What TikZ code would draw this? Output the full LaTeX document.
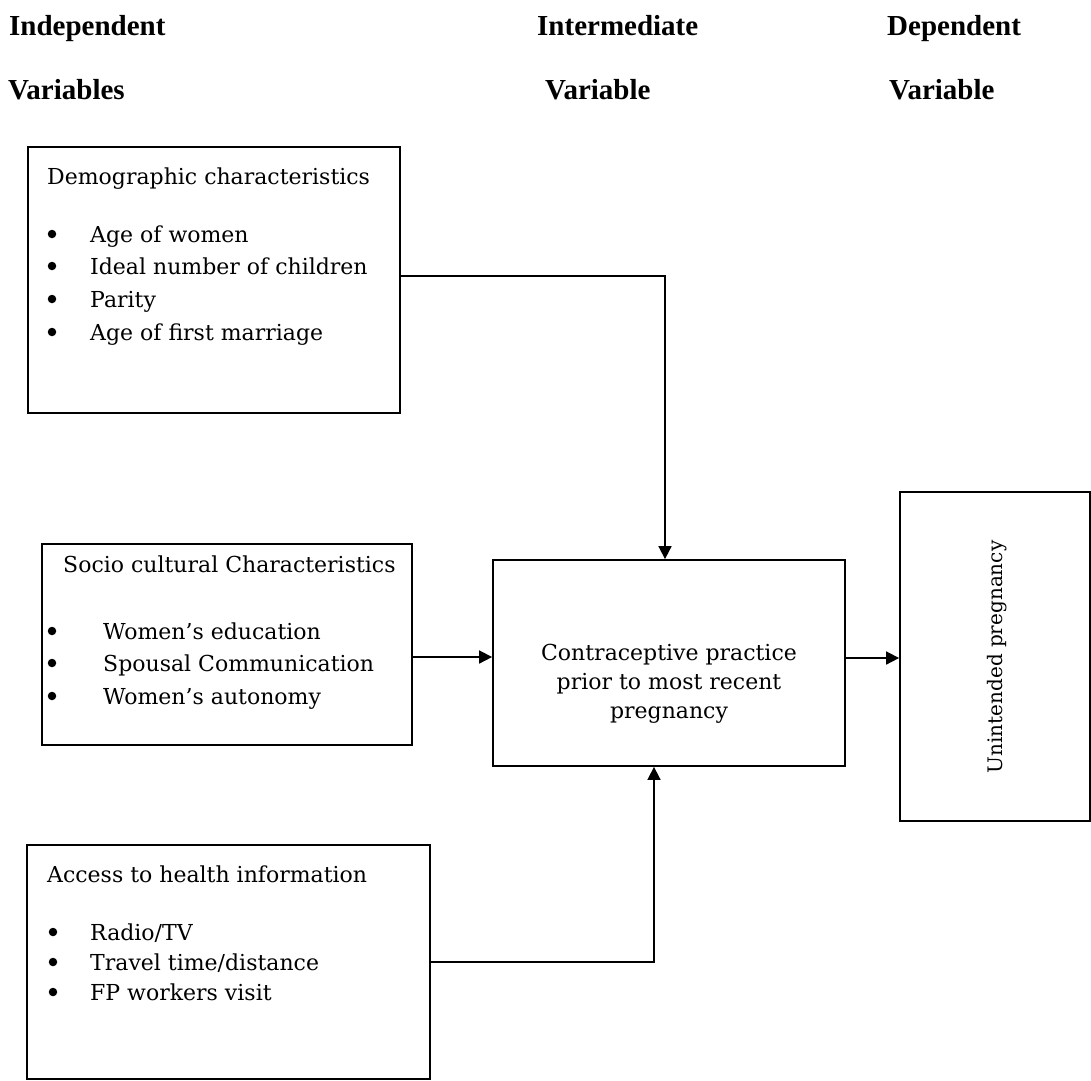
\documentclass[tikz,border=0pt]{standalone}
\usepackage{fontspec}
\setmainfont{DejaVu Serif}
\newfontfamily\hdrfont{Liberation Serif}
\usetikzlibrary{arrows.meta}
\begin{document}
\begin{tikzpicture}[x=1pt,y=-1pt,
  box/.style={draw=black,line width=1.8pt,rectangle,inner sep=0pt},
  hdr/.style={anchor=base west,inner sep=0pt,font=\hdrfont\bfseries\fontsize{29}{35}\selectfont},
  txt/.style={anchor=base west,inner sep=0pt,font=\fontsize{22}{33}\selectfont},
  bul/.style={circle,fill=black,draw=none,inner sep=0pt,minimum size=8.5pt},
  ctr/.style={anchor=base,inner sep=0pt,font=\fontsize{22}{29}\selectfont},
  conn/.style={line width=1.7pt,line cap=rect},
  arr/.style={conn,-{Triangle[length=13pt,width=13pt]}}]
\useasboundingbox (0,0) rectangle (1091,1080);
% headers
\node[hdr] (h1a) at (9,35) {Independent};
\node[hdr] (h1b) at (8,99) {Variables};
\node[hdr] (h2a) at (537,35) {Intermediate};
\node[hdr] (h2b) at (545,99) {Variable};
\node[hdr] (h3a) at (887,35) {Dependent};
\node[hdr] (h3b) at (889,99) {Variable};
% boxes
\node[box,minimum width=372pt,minimum height=266pt] (b1) at (214,280) {};
\node[box,minimum width=370pt,minimum height=201pt] (b2) at (227,644.5) {};
\node[box,minimum width=352pt,minimum height=206pt] (c) at (669,663) {};
\node[box,minimum width=190pt,minimum height=329pt] (r) at (995,656.5) {};
\node[box,minimum width=403pt,minimum height=234pt] (b3) at (228.5,962) {};
% box 1 text
\node[txt] (t1) at (47,184) {Demographic characteristics};
\node[bul] (t1b1) at (52,234) {};
\node[txt] (t1i1) at (90,242) {Age of women};
\node[bul] (t1b2) at (52,266) {};
\node[txt] (t1i2) at (90,274) {Ideal number of children};
\node[bul] (t1b3) at (52,299) {};
\node[txt] (t1i3) at (90,307) {Parity};
\node[bul] (t1b4) at (52,332) {};
\node[txt] (t1i4) at (90,340) {Age of first marriage};
% box 2 text
\node[txt] (t2) at (63,572) {Socio cultural Characteristics};
\node[bul] (t2b1) at (52,631) {};
\node[txt] (t2i1) at (103,639) {Women’s education};
\node[bul] (t2b2) at (52,663) {};
\node[txt] (t2i2) at (103,671) {Spousal Communication};
\node[bul] (t2b3) at (52,696) {};
\node[txt] (t2i3) at (103,704) {Women’s autonomy};
% box 3 text
\node[txt] (t3) at (47,882) {Access to health information};
\node[bul] (t3b1) at (53,932) {};
\node[txt] (t3i1) at (90,940) {Radio/TV};
\node[bul] (t3b2) at (53,962) {};
\node[txt] (t3i2) at (90,970) {Travel time/distance};
\node[bul] (t3b3) at (53,992) {};
\node[txt] (t3i3) at (90,1000) {FP workers visit};
% centre text
\node[ctr] (c1) at (669,660) {Contraceptive practice};
\node[ctr] (c2) at (669,689) {prior to most recent};
\node[ctr] (c3) at (669,718) {pregnancy};
% right text
\node[inner sep=0pt,rotate=90,font=\fontsize{20}{24}\selectfont] (rt) at (997,657) {Unintended pregnancy};
% connectors
\coordinate (k1) at (665,276);
\coordinate (k2) at (0,657);
\coordinate (k3) at (0,658);
\coordinate (k4) at (654,962);
\draw[arr] (b1.east |- k1) -- (k1) -- (c.north -| k1);
\draw[arr] (b2.east |- k2) -- (c.west |- k2);
\draw[arr] (c.east |- k3) -- (r.west |- k3);
\draw[arr] (b3.east |- k4) -- (k4) -- (c.south -| k4);
\end{tikzpicture}
\end{document}
